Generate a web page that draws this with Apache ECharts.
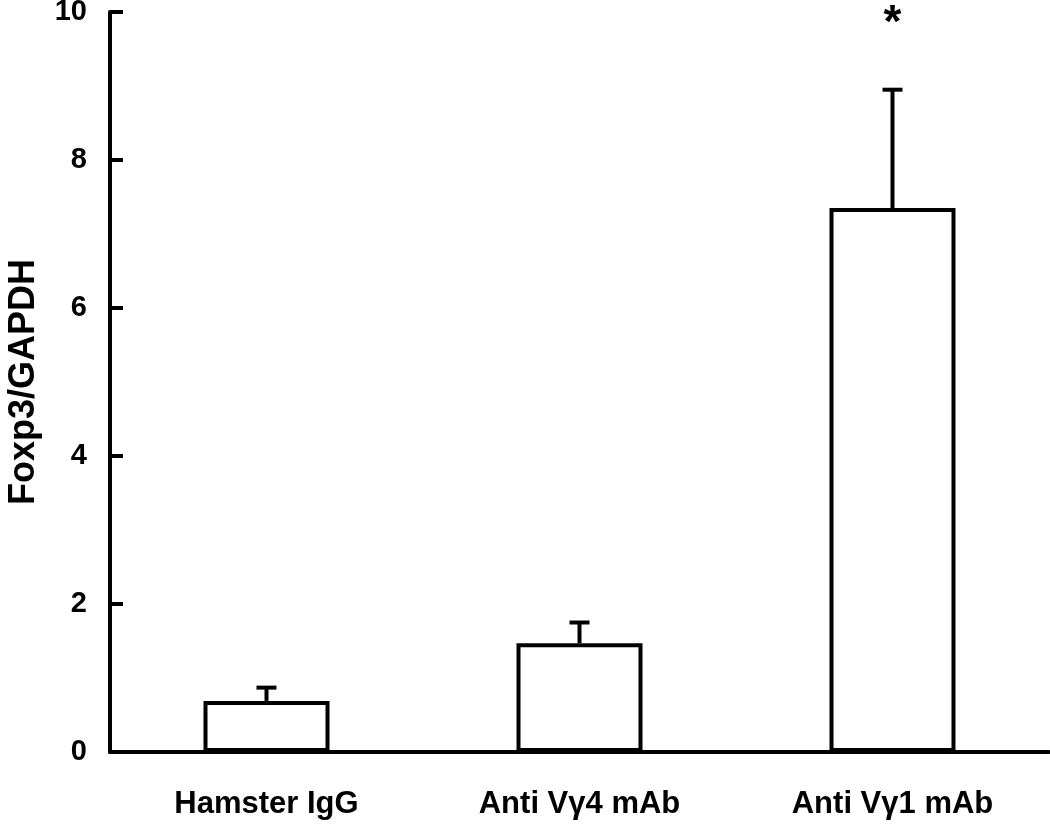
<!DOCTYPE html>
<html>
<head>
<meta charset="utf-8">
<script src="https://cdn.jsdelivr.net/npm/echarts@6/dist/echarts.min.js"></script>
<style>
html,body{margin:0;padding:0;background:#fff;}
#chart{width:1050px;height:826px;}
</style>
</head>
<body>
<div id="chart"></div>
<script>
const categories = ['Hamster IgG', 'Anti V\u03b34 mAb', 'Anti V\u03b31 mAb'];
const means = [0.69, 1.47, 7.35];
const errors = [0.18, 0.28, 1.60];
const marks = ['', '', '*'];
const yAxisName = 'Foxp3/GAPDH';
const yMin = 0, yMax = 10, yStep = 2;

const FONT = '"Liberation Sans", Arial, sans-serif';
const chart = echarts.init(document.getElementById('chart'));

chart.setOption({
  backgroundColor: '#fff',
  animation: false,
  grid: { left: 110, right: 1, top: 12, bottom: 74, containLabel: false, outerBoundsMode: 'none' },
  xAxis: {
    type: 'category',
    data: categories,
    axisLine: { lineStyle: { color: '#000', width: 4 } },
    axisTick: { show: false },
    axisLabel: { color: '#000', fontFamily: FONT, fontWeight: 'bold', fontSize: 31, margin: 37 }
  },
  yAxis: {
    type: 'value',
    min: yMin, max: yMax, interval: yStep,
    name: yAxisName,
    nameLocation: 'middle',
    nameGap: 68,
    nameTextStyle: { color: '#000', fontFamily: FONT, fontWeight: 'bold', fontSize: 36 },
    axisLine: { show: true, lineStyle: { color: '#000', width: 4 } },
    axisTick: { show: true, inside: true, length: 13, lineStyle: { color: '#000', width: 4 } },
    splitLine: { show: false },
    axisLabel: { color: '#000', fontFamily: FONT, fontWeight: 'bold', fontSize: 29, margin: 23 }
  },
  series: [
    {
      type: 'bar',
      data: means,
      barWidth: 126,
      itemStyle: { color: '#fff', borderColor: '#000', borderWidth: 4 },
      z: 2
    },
    {
      type: 'custom',
      z: 3,
      data: categories.map((c, i) => [i, means[i], errors[i]]),
      renderItem: function (params, api) {
        const i = api.value(0);
        const m = api.value(1), e = api.value(2);
        const base = api.coord([i, m]);
        const top = api.coord([i, m + e]);
        const half = 10;
        const children = [
          { type: 'line', shape: { x1: base[0], y1: base[1], x2: top[0], y2: top[1] }, style: { stroke: '#000', lineWidth: 4 } },
          { type: 'line', shape: { x1: top[0] - half, y1: top[1], x2: top[0] + half, y2: top[1] }, style: { stroke: '#000', lineWidth: 4 } }
        ];
        if (marks[i]) {
          const p = api.coord([i, yMax]);
          children.push({
            type: 'text',
            style: { text: marks[i], x: p[0], y: p[1] + 12, align: 'center', verticalAlign: 'middle',
                     fill: '#000', font: 'bold 46px ' + FONT }
          });
        }
        return { type: 'group', children: children };
      }
    }
  ]
});
</script>
</body>
</html>
